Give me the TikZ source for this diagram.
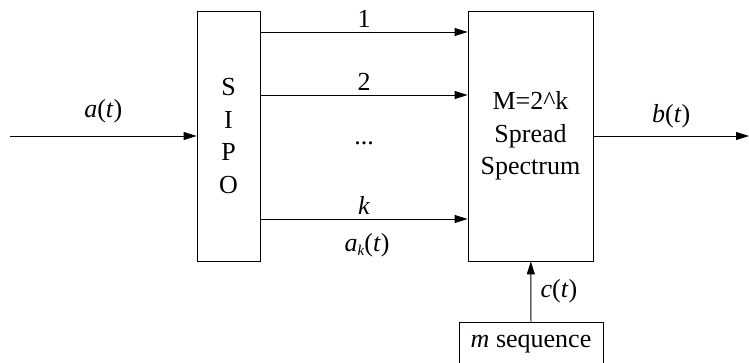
\documentclass[tikz,border=0pt]{standalone}
\usepackage{fontspec}
\setmainfont{Liberation Serif}
\usetikzlibrary{arrows.meta}

\newcommand{\sigt}[1]{\textit{#1}(\textit{t})}

\tikzset{
    blockbox/.style={draw, thick, align=center, inner sep=0pt}
}

\begin{document}
\begin{tikzpicture}[x=1pt, y=-1pt, line width=0.9pt,
    >={Triangle[length=13pt,width=8pt]},
    every node/.style={font=\fontsize{26}{32.5}\selectfont}]
    \useasboundingbox (0,0) rectangle (749,363);
    \clip (0,0) rectangle (749,363);

    % blocks
    \node[blockbox, minimum width=63pt, minimum height=250pt] (sipo) at (228.5,136) {S\\I\\P\\O};
    \node[blockbox, minimum width=125pt, minimum height=250pt] (spread) at (530.5,136) {M=2\^{}k\\Spread\\Spectrum};
    \node[blockbox, minimum width=144pt, minimum height=44pt, anchor=north] (mseq) at (531,322) {\textit{m} sequence};

    \coordinate (in) at (10,136);
    \coordinate (out) at (749,136);

    % input and output
    \draw[->] (in) -- node[above=9pt] (lin) {\sigt{a}} (sipo);
    \draw[->] (spread) -- node[above=4pt] (lout) {\sigt{b}} (out);

    % parallel branches
    \foreach \yy/\lab in {32/1, 95/2, 219/\textit{k}} {
        \draw[->] (sipo.east |- 0,\yy) -- node[above=1pt] {\lab} (spread.west |- 0,\yy);
    }
    \node (dots) at (364,143) {...};
    \node (lak) at (367,245) {\textit{a}\raisebox{-0.35ex}{\fontsize{15}{17}\selectfont\textit{k}}(\textit{t})};

    % spreading code
    \draw[->] (mseq) -- node[right=6pt] (lc) {\sigt{c}} (spread);
\end{tikzpicture}
\end{document}
